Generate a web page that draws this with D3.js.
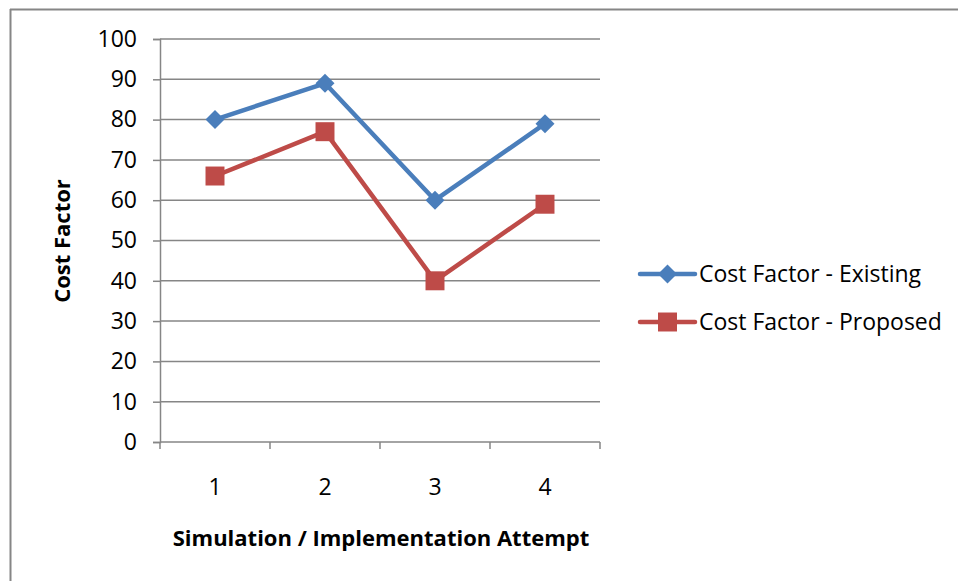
<!DOCTYPE html>
<html>
<head>
<meta charset="utf-8">
<script src="https://cdn.jsdelivr.net/npm/d3@7"></script>
<style>
  html, body { margin: 0; padding: 0; background: #fff; }
  svg { display: block; }
  text { font-family: "Open Sans", Lato, sans-serif; fill: #000; }
</style>
</head>
<body>
<svg id="chart" width="958" height="581"></svg>
<script>
// Cost factor per attempt, for the existing and the proposed method
const categories = ["1", "2", "3", "4"];
const existing = [80, 89, 60, 79];
const proposed = [66, 77, 40, 59];
const yTicks = [0, 10, 20, 30, 40, 50, 60, 70, 80, 90, 100];
const seriesNames = ["Cost Factor - Existing", "Cost Factor - Proposed"];

const svg = d3.select("#chart");
const W = 958, H = 581;
const plot = { left: 160, right: 600, top: 39, bottom: 442 };
const gridColor = "#868686";
const colors = ["#4A7EBB", "#BE4B48"];
const fontSize = 23;
const titleSize = 22;

// chart frame (top and left edges visible)
svg.append("line").attr("x1", 10).attr("x2", W).attr("y1", 9.5).attr("y2", 9.5)
  .attr("stroke", gridColor).attr("stroke-width", 2);
svg.append("line").attr("x1", 10.5).attr("x2", 10.5).attr("y1", 9).attr("y2", H)
  .attr("stroke", gridColor).attr("stroke-width", 2);

const x = d3.scaleBand().domain(categories).range([plot.left, plot.right]);
const y = d3.scaleLinear().domain([0, 100]).range([plot.bottom, plot.top]);

// horizontal gridlines
svg.append("g").selectAll("line").data(yTicks.filter(d => d > 0)).join("line")
  .attr("x1", plot.left).attr("x2", plot.right)
  .attr("y1", d => y(d)).attr("y2", d => y(d))
  .attr("stroke", gridColor).attr("stroke-width", 1.5);

// y axis
const yAxis = svg.append("g").attr("transform", `translate(${plot.left},0)`)
  .call(d3.axisLeft(y).tickValues(yTicks).tickSize(7).tickPadding(16));
yAxis.select(".domain").attr("stroke", gridColor).attr("stroke-width", 1.5);
yAxis.selectAll(".tick line").attr("stroke", gridColor).attr("stroke-width", 1.5);
yAxis.selectAll("text").attr("font-size", fontSize).style("font-family", "'Open Sans', sans-serif");

// x axis with ticks at category boundaries
const xAxisG = svg.append("g").attr("transform", `translate(0,${plot.bottom})`);
xAxisG.append("line").attr("x1", plot.left).attr("x2", plot.right)
  .attr("stroke", gridColor).attr("stroke-width", 1.5);
const bounds = categories.map(c => x(c)).concat([x(categories[categories.length - 1]) + x.bandwidth()]);
xAxisG.selectAll("line.tk").data(bounds).join("line").attr("class", "tk")
  .attr("x1", d => d).attr("x2", d => d).attr("y1", 0).attr("y2", 7)
  .attr("stroke", gridColor).attr("stroke-width", 1.5);
xAxisG.selectAll("text").data(categories).join("text")
  .attr("x", d => x(d) + x.bandwidth() / 2).attr("y", 53)
  .attr("text-anchor", "middle").attr("font-size", fontSize).text(d => d);

// axis titles
svg.append("text").attr("x", 381).attr("y", 546).attr("text-anchor", "middle")
  .attr("font-size", titleSize).attr("font-weight", "bold")
  .text("Simulation / Implementation Attempt");
svg.append("text").attr("transform", "translate(70,241) rotate(-90)")
  .attr("text-anchor", "middle").attr("font-size", titleSize).attr("font-weight", "bold")
  .text("Cost Factor");

// series lines and markers
const cx = d => x(d) + x.bandwidth() / 2;
const line = d3.line().x((d, i) => cx(categories[i])).y(d => y(d));
const diamond = d3.symbol().type(d3.symbolDiamond2).size(230);
const square = d3.symbol().type(d3.symbolSquare).size(360);

[existing, proposed].forEach((vals, s) => {
  svg.append("path").datum(vals).attr("d", line)
    .attr("fill", "none").attr("stroke", colors[s]).attr("stroke-width", 4.5)
    .attr("stroke-linejoin", "round");
  svg.append("g").selectAll("path").data(vals).join("path")
    .attr("transform", (d, i) => `translate(${cx(categories[i])},${y(d)})`)
    .attr("d", s === 0 ? diamond : square)
    .attr("fill", colors[s]);
});

// legend
const legend = svg.append("g");
seriesNames.forEach((name, s) => {
  const ly = 274 + s * 48;
  legend.append("line").attr("x1", 640).attr("x2", 695).attr("y1", ly).attr("y2", ly)
    .attr("stroke", colors[s]).attr("stroke-width", 4.5).attr("stroke-linecap", "round");
  legend.append("path").attr("transform", `translate(667.5,${ly})`)
    .attr("d", s === 0 ? diamond : square).attr("fill", colors[s]);
  legend.append("text").attr("x", 699).attr("y", ly + 8).attr("font-size", fontSize).text(name);
});
</script>
</body>
</html>
